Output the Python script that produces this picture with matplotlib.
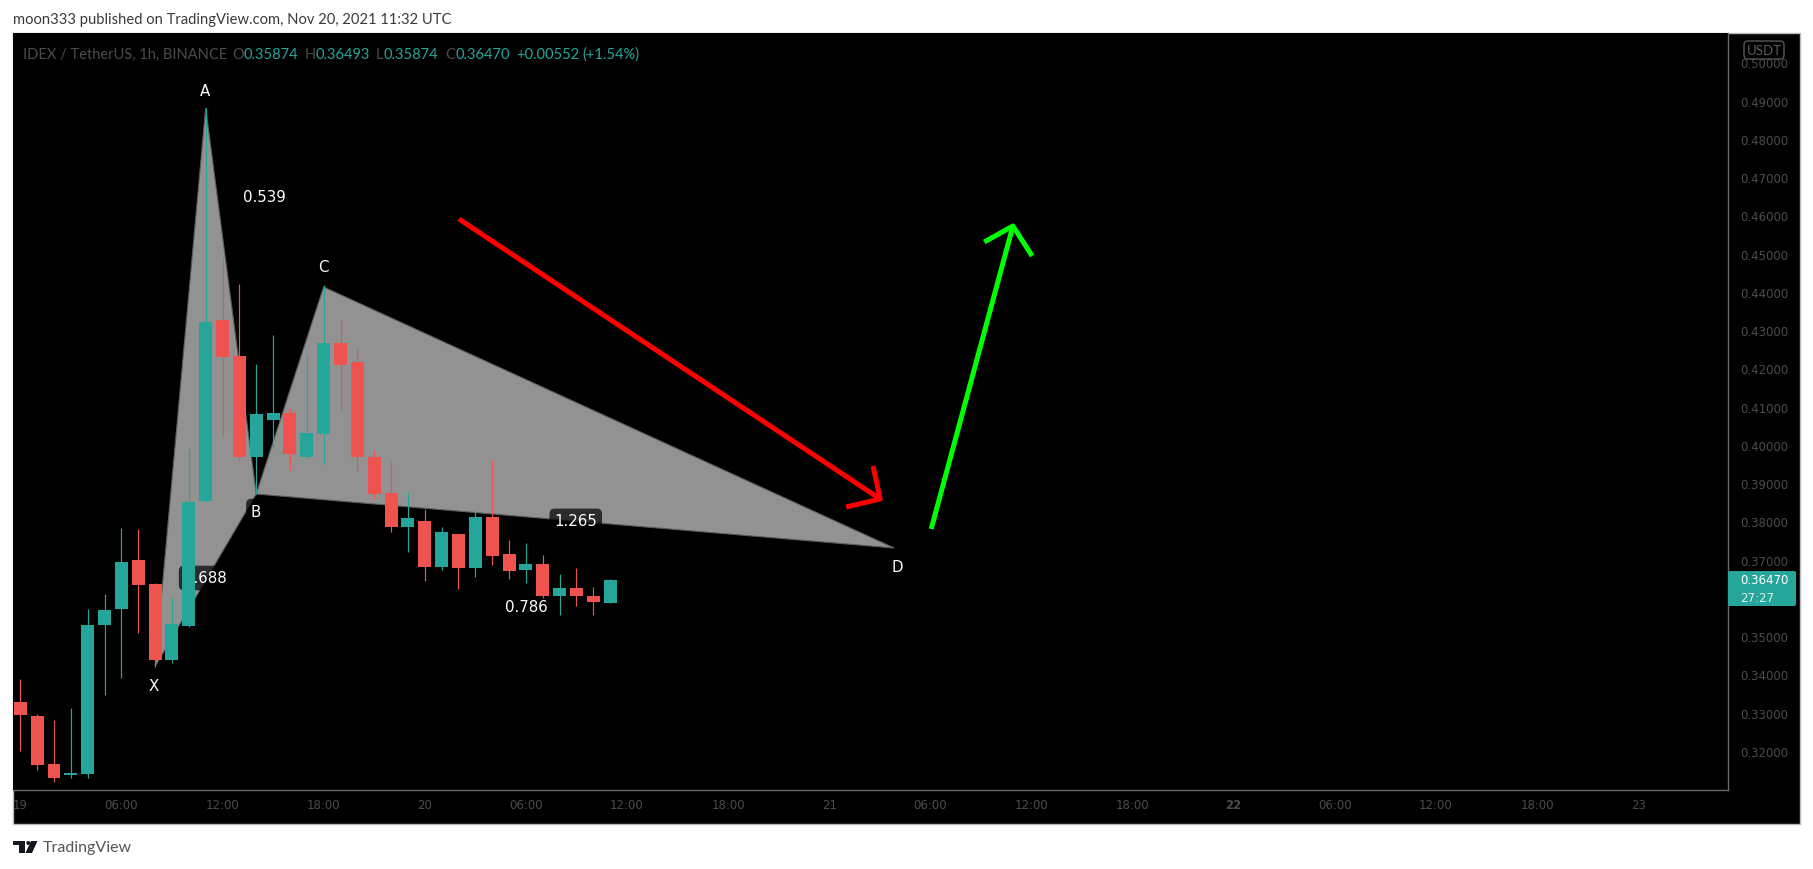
import matplotlib
matplotlib.use("Agg")
import matplotlib.pyplot as plt
from matplotlib.patches import Rectangle, Polygon, FancyBboxPatch, Circle
from matplotlib.transforms import Affine2D

W, H = 1813, 870

opens = [.33280,.32914,.31659,.31371,.31398,.35293,.35711,.36992,.36365,.34378,.35267,.38535,.43267,.42326,.39685,.40653,.40836,.39685,.40287,.42666,.42169,.39685,.38744,.37855,.38012,.36809,.37672,.36783,.38117,.37149,.36731,.36888,.36051,.36260,.36051,.35874]
closes = [.32940,.31633,.31293,.31424,.35293,.35685,.36940,.36339,.34378,.35319,.38509,.43215,.42300,.39685,.40809,.40836,.39764,.40313,.42666,.42091,.39685,.38718,.37855,.38090,.36809,.37725,.36783,.38117,.37097,.36705,.36888,.36051,.36260,.36051,.35894,.36470]
highs = [.33881,.32966,.32809,.33123,.35711,.36104,.37829,.37803,.36391,.35999,.39894,.48809,.44905,.44208,.42117,.42875,.40966,.42352,.44182,.43293,.42509,.39868,.39581,.38770,.38326,.37855,.37672,.38273,.39607,.37515,.37437,.37123,.36626,.36783,.36287,.36493]
lows = [.31999,.31502,.31188,.31293,.31293,.33463,.33907,.35084,.34195,.34300,.35241,.38509,.40208,.39555,.38718,.39921,.39345,.39633,.39502,.40914,.39293,.38587,.37725,.37202,.36443,.36731,.36234,.36548,.36862,.36496,.36391,.35999,.35555,.35790,.35555,.35874]

pattern_x = [8, 11, 14, 18, 51.85]
pattern_y = [.34210, .48809, .38718, .44129, .37306]
red_shaft_x, red_shaft_y = [26.03, 51.02], [.45907, .38587]
red_head_x, red_head_y = [50.6, 51.02, 49.0], [.3945, .38587, .38378]
green_shaft_x, green_shaft_y = [54.05, 58.9], [.37803, .45724]
green_head_x, green_head_y = [57.2, 58.9, 60.04], [.45306, .45724, .4494]

point_names = ["A", "X", "B", "C", "D"]
point_x = [10.96, 7.93, 13.99, 17.96, 52.03]
point_y = [.49275, .33724, .38273, .44678, .36835]
ratio_names = ["0.539", "0.688", "1.265", "0.786"]
ratio_x = [14.46, 10.96, 32.96, 30.0]
ratio_y = [.46485, .36522, .38015, .35765]

price_ticks = [.50,.49,.48,.47,.46,.45,.44,.43,.42,.41,.40,.39,.38,.37,.35,.34,.33,.32]
time_ticks = [0,6,12,18,24,30,36,42,48,54,60,66,72,78,84,90,96]
time_labels = ["19","06:00","12:00","18:00","20","06:00","12:00","18:00","21","06:00","12:00","18:00","22","06:00","12:00","18:00","23"]

header = "moon333 published on TradingView.com, Nov 20, 2021 11:32 UTC"
legend_text = ["IDEX / TetherUS, 1h, BINANCE","O","0.35874","H","0.36493","L","0.35874","C","0.36470","+0.00552","(+1.54%)"]
legend_left = [23,232,244,305,315,376,383,445.5,455,516.5,582.6]
legend_is_value = [False,False,True,False,True,False,True,False,True,True,True]

UP, DOWN = "#26a69a", "#ef5350"
FAINT = "#4c4c4c"
FRAME = "#6a6a6a"
SANS = "DejaVu Sans"
HEAD = "Lato"

fig = plt.figure(figsize=(W/100, H/100), dpi=100, facecolor="white")
pix = Affine2D().scale(1/W, -1/H).translate(0, 1) + fig.transFigure

fig.add_artist(Rectangle((13, 34), 1787, 791, transform=pix, facecolor="black",
                         edgecolor="#b8b8c0", linewidth=1, zorder=-1))

ax = fig.add_axes([13/W, 1-791/H, (1728-13)/W, (791-34)/H], facecolor="black")
ax.set_xlim(-0.433, 101.33)
ax.set_ylim(.37+(560.7-791)/3825, .37+(560.7-34)/3825)
for s in ("top", "left"):
    ax.spines[s].set_visible(False)
for s in ("right", "bottom"):
    ax.spines[s].set_color(FRAME)
    ax.spines[s].set_linewidth(1)

# harmonic pattern
xy = list(zip(pattern_x, pattern_y))
for tri in (xy[:3], xy[2:5]):
    ax.add_patch(Polygon(tri, closed=True, facecolor="#929292", edgecolor="#5e5e5e",
                         linewidth=0.8, zorder=1))

box = dict(boxstyle="round,pad=0.32,rounding_size=0.35", facecolor="black", alpha=0.7, edgecolor="none")
for name, x, y in zip(ratio_names, ratio_x, ratio_y):
    ax.text(x, y, name, color="white", fontsize=10.8, family=SANS, ha="center", va="center",
            bbox=box, zorder=2)
for name, x, y in zip(point_names, point_x, point_y):
    ax.text(x, y, name, color="white", fontsize=10.8, family=SANS, ha="center", va="center",
            bbox=box, zorder=2)

# candles
xs = list(range(len(opens)))
colors = [UP if c >= o else DOWN for o, c in zip(opens, closes)]
ax.vlines(xs, lows, highs, colors=colors, linewidth=0.85, zorder=3)
ax.bar(xs, [abs(c-o) for o, c in zip(opens, closes)], bottom=[min(o, c) for o, c in zip(opens, closes)],
       width=0.77, color=colors, linewidth=0, zorder=4)

# arrows
for sx, sy, hx, hy, col in ((red_shaft_x, red_shaft_y, red_head_x, red_head_y, "#ff0000"),
                            (green_shaft_x, green_shaft_y, green_head_x, green_head_y, "#00ff00")):
    ax.plot(sx, sy, color=col, linewidth=3.6, solid_capstyle="butt", zorder=5)
    ax.plot(hx, hy, color=col, linewidth=3.6, solid_capstyle="butt", solid_joinstyle="round", zorder=5)

# scales
ax.yaxis.tick_right()
ax.set_yticks(price_ticks)
ax.set_yticklabels([f"{p:.5f}" for p in price_ticks], color=FAINT, fontsize=8.5, family=SANS)
ax.set_xticks(time_ticks)
ax.set_xticklabels(time_labels, color=FAINT, fontsize=8.5, family=SANS)
ax.tick_params(axis="both", length=0)
ax.tick_params(axis="y", pad=8.5)
ax.tick_params(axis="x", pad=6)
for lab, name in zip(ax.get_xticklabels(), time_labels):
    if name == "22":
        lab.set_fontweight("bold")

# currency tag
tag = FancyBboxPatch((1744, 42), 40, 18, boxstyle="round,pad=0,rounding_size=4", transform=pix,
                     facecolor="#000000", edgecolor="#555555", linewidth=1, zorder=6)
fig.add_artist(tag)
fig.text(1764/W, 1-51/H, "USDT", color="#5c5c5c", fontsize=9.5, family=HEAD, ha="center", va="center", zorder=7)

# last price tag
fig.add_artist(FancyBboxPatch((1728, 572), 68, 35, boxstyle="round,pad=0,rounding_size=2", transform=pix,
                              facecolor=UP, edgecolor="none", zorder=6))
fig.text(1764/W, 1-581/H, "0.36470", color="white", fontsize=8.5, family=SANS, fontweight="bold" if False else "normal",
         ha="center", va="center", zorder=7)
fig.text(1757/W, 1-598/H, "27:27", color="#d8efec", fontsize=8.5, family=SANS, ha="center", va="center", zorder=7)

# header, legend, footer
fig.text(13/W, 1-20/H, header, color="#3a3a3a", fontsize=10.6, family=HEAD, ha="left", va="center")
for t, x, v in zip(legend_text, legend_left, legend_is_value):
    fig.text(x/W, 1-55/H, t, color=UP if v else FAINT, fontsize=10.5, family=HEAD, ha="left", va="center", zorder=7)

logo = "#131722"
fig.add_artist(Polygon([(13, 842), (25.3, 842), (25.3, 854), (19.3, 854), (19.3, 846), (13, 846)],
                       closed=True, transform=pix, facecolor=logo, edgecolor="none"))
fig.add_artist(Circle((28.3, 844), 2, transform=pix, facecolor=logo, edgecolor="none"))
fig.add_artist(Polygon([(31, 842), (37.5, 842), (32, 854), (25.5, 854)],
                       closed=True, transform=pix, facecolor=logo, edgecolor="none"))
fig.text(43/W, 1-848/H, "TradingView", color="#555555", fontsize=11.5, family=HEAD, ha="left", va="center")

fig.savefig("out.png", dpi=100, facecolor="white")
